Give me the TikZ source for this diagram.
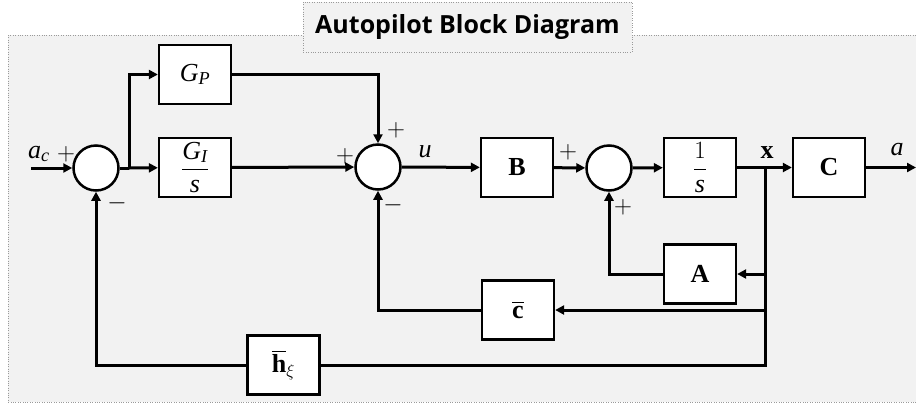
\documentclass[tikz,border=0pt]{standalone}
\usepackage{amsmath}
\usepackage{fontspec}
\setmainfont{Liberation Serif}
\newfontfamily\titlefont{Open Sans}
\usetikzlibrary{arrows.meta}
\definecolor{panel}{HTML}{F2F2F2}
\definecolor{dotc}{HTML}{9A9A9A}
\begin{document}
\begin{tikzpicture}[x=1pt,y=-1pt,
  blk/.style={draw,line width=2.3pt,fill=white,minimum width=72pt,minimum height=59pt,inner sep=0pt,font=\fontsize{26}{30}\selectfont},
  sumj/.style={draw,circle,line width=2.5pt,fill=white,minimum size=45pt,inner sep=0pt},
  wire/.style={line width=3pt},
  arr/.style={wire,-{Triangle[length=9pt,width=9pt]}},
  lbl/.style={font=\fontsize{26}{30}\selectfont,inner sep=0pt},
  sgn/.style={font=\fontsize{24}{28}\selectfont,inner sep=0pt}]
\useasboundingbox (0,0) rectangle (916,405);
\draw[dotc,dotted,fill=panel] (8,35) rectangle (930,402);
\draw[dotc,dotted,fill=panel] (303,2) rectangle (632,52);
\node[font=\titlefont\bfseries\fontsize{25}{30}\selectfont,inner sep=0pt] (title) at (467.5,27) {Autopilot Block Diagram};
% junctions
\node[sumj] (s1) at (96,168) {};
\node[sumj] (s2) at (378,167) {};
\node[sumj] (s3) at (609,168) {};
% blocks
\node[blk] (gp) at (195,74.5) {$\textit{G}_{\textit{P}}$};
\node[blk] (gi) at (195,167.5) {$\dfrac{\textit{G}_{\textit{I}}}{\textit{s}}$};
\node[blk] (B) at (517,167.5) {\textbf{B}};
\node[blk] (I) at (700,167.5) {$\dfrac{1}{\textit{s}}$};
\node[blk] (C) at (829,167.5) {\textbf{C}};
\node[blk] (A) at (700,274) {\textbf{A}};
\node[blk] (cb) at (518,310) {$\overline{\textbf{c}}$};
\node[blk] (h) at (283.5,365) {$\overline{\textbf{h}}_{\xi}$};
% points
\coordinate (in) at (31,168);
\coordinate (p1) at (129,168);
\coordinate (xb) at (765,167.5);
\coordinate (out) at (916,167.5);
% wires
\draw[arr] (in) -- (s1);
\draw[wire] (s1) -- (p1);
\draw[arr] (p1) -- (gi);
\draw[arr] (p1) |- (gp);
\draw[arr] (gp) -| (s2);
\draw[arr] (gi) -- (s2);
\draw[arr] (s2) -- (B);
\draw[arr] (B) -- (s3);
\draw[arr] (s3) -- (I);
\draw[arr] (I) -- (C);
\draw[arr] (C) -- (out);
\draw[wire] (xb) |- (h);
\draw[arr] (xb |- A) -- (A);
\draw[arr] (A) -| (s3);
\draw[arr] (xb |- cb) -- (cb);
\draw[arr] (cb) -| (s2);
\draw[arr] (h) -| (s1);
% labels
\node[lbl] (lac) at (39,154) {$\textit{a}_{\textit{c}}$};
\node[sgn] (p1a) at (66,154) {$+$};
\node[sgn] (m1) at (117,203) {$-$};
\node[sgn] (p2a) at (345,156) {$+$};
\node[sgn] (p2b) at (396,130) {$+$};
\node[sgn] (m2) at (393,205) {$-$};
\node[lbl] (lu) at (425,152) {\textit{u}};
\node[sgn] (p3a) at (568,152) {$+$};
\node[sgn] (p3b) at (623,207) {$+$};
\node[lbl] (lx) at (767,153) {\textbf{x}};
\node[lbl] (la) at (897,150) {\textit{a}};
\end{tikzpicture}
\end{document}
